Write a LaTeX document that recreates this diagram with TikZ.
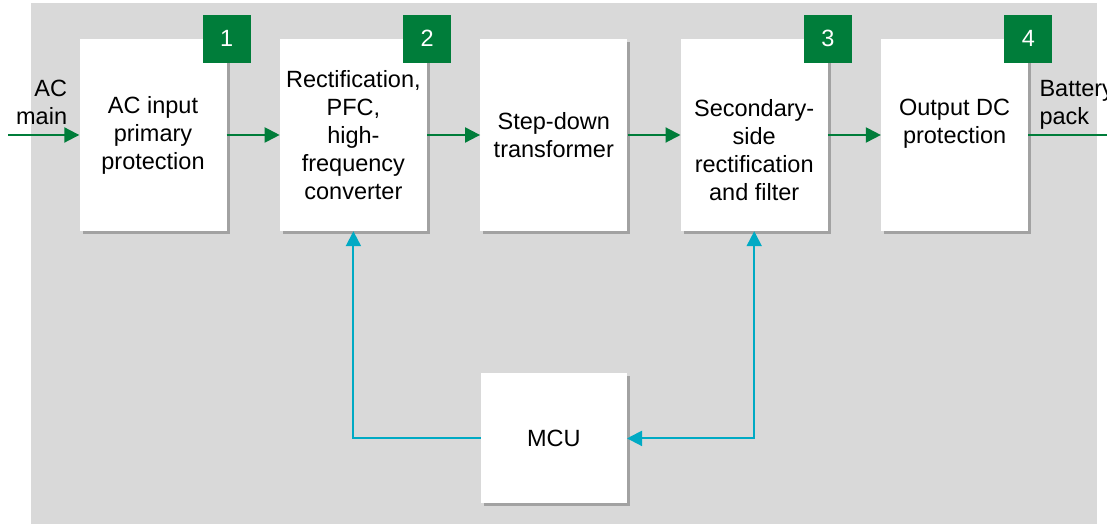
\documentclass[tikz,border=0pt]{standalone}
\usepackage{fontspec}
\setmainfont{Liberation Sans}
\usetikzlibrary{positioning}
\usetikzlibrary{arrows.meta}
\usetikzlibrary{shadows}
\definecolor{bggray}{RGB}{217,217,217}
\definecolor{chgreen}{RGB}{0,125,58}
\definecolor{ctcyan}{RGB}{0,170,196}

\begin{document}
\begin{tikzpicture}[x=1pt, y=1pt,
 font=\fontsize{23.5}{28}\selectfont,
 blk/.style={fill=white, minimum width=147pt, minimum height=192pt, align=center, inner sep=0pt,
  drop shadow={shadow xshift=3pt, shadow yshift=-3pt, fill=black, opacity=.25}},
 badge/.style={fill=chgreen, text=white, minimum size=48pt, inner sep=0pt},
 flow/.style={chgreen, line width=2pt, -{Triangle[length=15pt, width=15pt]}},
 ctrl/.style={ctcyan, line width=2pt, -{Triangle[length=15pt, width=15pt]}},
 node distance=53pt]
\useasboundingbox (0,0) rectangle (1107,524);
\fill[bggray] (31,0) rectangle (1097,521);
% charger chain
\node[blk] (b1) at (153,389) {AC input\\primary\\protection};
\node[blk, right=of b1] (b2) {Rectification,\\PFC,\\high-\\frequency\\converter};
\node[blk, right=of b2] (b3) {Step-down\\transformer};
\node[blk, right=of b3] (b4) {\strut\\Secondary-\\side\\rectification\\and filter};
\node[blk, right=of b4] (b5) {Output DC\\protection\\\mbox{}};
\node[blk, minimum width=146pt, minimum height=130pt, below=142pt of b3] (mcu) {MCU};
\foreach \b/\n in {b1/1, b2/2, b4/3, b5/4} {
 \node[badge] (n\n) at (\b.north east) {\n};
}
% power path
\coordinate (acin) at (8,389);
\coordinate (dcout) at (1112,389);
\node[anchor=north east, align=right, inner sep=0pt] (acmain) at ([xshift=-12pt, yshift=55pt]b1.west) {AC\\main};
\node[anchor=north west, align=left, inner sep=0pt] (batt) at ([xshift=11pt, yshift=55pt]b5.east) {Battery\\pack};
\draw[flow] (acin) -- (b1);
\foreach \a/\b in {b1/b2, b2/b3, b3/b4, b4/b5} {
 \draw[flow] (\a) -- (\b);
}
\draw[chgreen, line width=2pt] (b5) -- (dcout);
% control
\draw[ctrl] (mcu.west) -| (b2.south);
\draw[ctrl, {Triangle[length=15pt, width=15pt]}-{Triangle[length=15pt, width=15pt]}] (b4.south) |- (mcu.east);
\end{tikzpicture}
\end{document}
